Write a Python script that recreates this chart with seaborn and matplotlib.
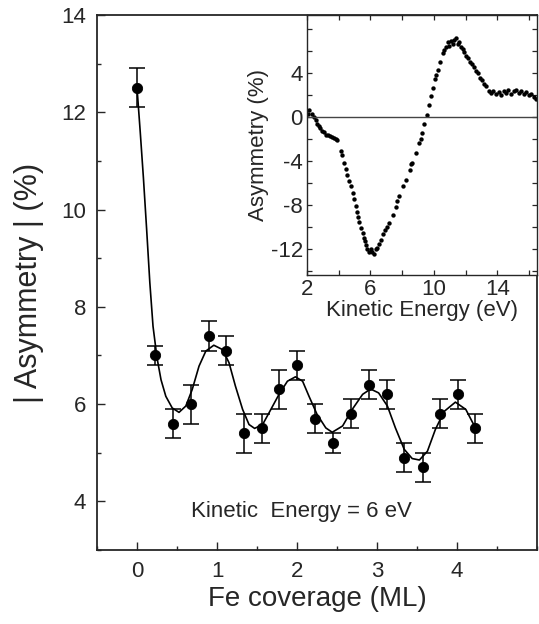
import matplotlib
matplotlib.use("Agg")
import matplotlib.pyplot as plt
from matplotlib.ticker import MultipleLocator
import seaborn as sns

# Main panel: asymmetry vs Fe coverage (points with error bars)
coverage = [0.0, 0.225, 0.45, 0.67, 0.9, 1.11, 1.34, 1.56, 1.78, 2.0,
            2.22, 2.45, 2.68, 2.9, 3.12, 3.34, 3.57, 3.79, 4.01, 4.23]
asymmetry = [12.5, 7.0, 5.6, 6.0, 7.4, 7.1, 5.4, 5.5, 6.3, 6.8,
             5.7, 5.2, 5.8, 6.4, 6.2, 4.9, 4.7, 5.8, 6.2, 5.5]
asym_err = [0.4, 0.2, 0.3, 0.4, 0.3, 0.3, 0.4, 0.3, 0.4, 0.3,
            0.3, 0.2, 0.3, 0.3, 0.3, 0.3, 0.3, 0.3, 0.3, 0.3]

# fitted curve
fit_x = [0.0, 0.04, 0.08, 0.12, 0.16, 0.20, 0.25, 0.30, 0.36, 0.44,
         0.525, 0.61, 0.69, 0.775, 0.86, 0.96, 1.07, 1.15, 1.23, 1.32,
         1.40, 1.47, 1.57, 1.65, 1.775, 1.88, 1.98, 2.07, 2.15, 2.25,
         2.36, 2.44, 2.57, 2.69, 2.82, 2.92, 3.02, 3.13, 3.23, 3.34,
         3.44, 3.53, 3.63, 3.73, 3.84, 3.98, 4.11, 4.23]
fit_y = [12.5, 11.6, 10.65, 9.6, 8.5, 7.6, 6.95, 6.5, 6.16, 5.92,
         5.83, 5.96, 6.3, 6.78, 7.09, 7.21, 7.12, 6.85, 6.37, 5.89,
         5.58, 5.5, 5.58, 5.82, 6.2, 6.47, 6.56, 6.47, 6.16, 5.79,
         5.51, 5.42, 5.55, 5.89, 6.2, 6.31, 6.23, 5.96, 5.51, 5.07,
         4.88, 4.85, 5.03, 5.48, 5.85, 6.04, 5.89, 5.51]

# Inset: asymmetry vs kinetic energy
energy = [2.05, 2.15, 2.3, 2.44, 2.55, 2.65, 2.75, 2.82, 2.95, 3.07,
          3.2, 3.35, 3.48, 3.6, 3.72, 3.82, 3.91, 4.13, 4.22, 4.34,
          4.45, 4.55, 4.65, 4.76, 4.87, 4.97, 5.06, 5.14, 5.2, 5.28,
          5.4, 5.5, 5.58, 5.66, 5.74, 5.81, 5.92, 6.02, 6.12, 6.23,
          6.33, 6.44, 6.55, 6.66, 6.8, 6.93, 7.05, 7.18, 7.39, 7.6,
          7.7, 7.81, 8.06, 8.27, 8.49, 8.57, 8.65, 8.87, 9.07, 9.16,
          9.25, 9.39, 9.54, 9.66, 9.81, 9.92, 10.04, 10.12, 10.23, 10.38,
          10.55, 10.65, 10.76, 10.87, 10.97, 11.08, 11.18, 11.29, 11.39, 11.5,
          11.6, 11.7, 11.81, 11.92, 12.02, 12.15, 12.28, 12.42, 12.55, 12.65,
          12.76, 12.9, 13.04, 13.16, 13.29, 13.45, 13.6, 13.75, 13.92, 14.08,
          14.23, 14.4, 14.55, 14.7, 14.87, 15.02, 15.18, 15.34, 15.5, 15.65,
          15.81, 15.97, 16.13, 16.3, 16.45]
energy_asym = [0.3, 0.6, 0.3, 0.0, -0.3, -0.6, -0.8, -1.0, -1.3, -1.4,
               -1.6, -1.6, -1.7, -1.8, -1.9, -2.0, -2.1, -3.1, -3.5, -4.2,
               -4.7, -5.3, -5.8, -6.3, -6.9, -7.5, -8.1, -8.7, -9.1, -9.6,
               -10.1, -10.6, -11.0, -11.3, -11.7, -12.0, -12.3, -12.0, -12.3, -12.5,
               -12.0, -11.9, -11.6, -11.2, -10.7, -10.3, -10.0, -9.7, -8.9, -8.2,
               -7.7, -7.2, -6.3, -5.7, -4.8, -4.3, -4.2, -3.3, -2.4, -2.0,
               -1.5, -0.6, 0.2, 1.1, 1.9, 2.6, 3.5, 3.8, 4.3, 5.0,
               5.8, 6.1, 6.4, 6.8, 6.5, 6.9, 6.7, 7.0, 7.2, 6.7,
               6.8, 6.4, 6.2, 5.9, 5.6, 5.4, 5.0, 4.8, 4.6, 4.2,
               4.0, 3.6, 3.4, 3.0, 2.8, 2.4, 2.2, 2.4, 2.1, 2.3,
               2.0, 2.4, 2.2, 2.5, 2.1, 2.4, 2.5, 2.2, 2.4, 2.1,
               2.3, 2.0, 2.1, 1.8, 1.6]

sns.set_style("ticks")
plt.rcParams["font.family"] = ["Liberation Sans", "DejaVu Sans"]
plt.rcParams["axes.unicode_minus"] = False

fig = plt.figure(figsize=(5.39, 6.24), dpi=100)
ax = fig.add_axes([0.18, 0.1186, 0.8163, 0.8574])

sns.lineplot(x=fit_x, y=fit_y, ax=ax, color="black", linewidth=1.2, sort=False, estimator=None)
ax.errorbar(coverage, asymmetry, yerr=asym_err, fmt="none", ecolor="black",
            elinewidth=1.1, capsize=5.6, capthick=1.1, zorder=2)
sns.scatterplot(x=coverage, y=asymmetry, ax=ax, color="black", s=55, edgecolor="black", zorder=3)

ax.set_xlim(-0.5, 5)
ax.set_ylim(3, 14)
ax.set_xticks([0, 1, 2, 3, 4])
ax.set_yticks([4, 6, 8, 10, 12, 14])
ax.xaxis.set_minor_locator(MultipleLocator(0.5))
ax.yaxis.set_minor_locator(MultipleLocator(1))
ax.tick_params(which="major", direction="in", length=5.5, width=1, labelsize=16, pad=8)
ax.tick_params(which="minor", direction="in", length=3, width=1)
for s in ax.spines.values():
    s.set_linewidth(1.3)
ax.set_xlabel("Fe coverage (ML)", fontsize=20, labelpad=3)
ax.set_ylabel("| Asymmetry | (%)", fontsize=22, labelpad=12)
ax.text(2.05, 3.8, "Kinetic  Energy = 6 eV", ha="center", va="center", fontsize=16)

# inset
ax2 = fig.add_axes([0.5696, 0.5593, 0.4267, 0.4167])
ax2.axhline(0, color="#444444", linewidth=1)
sns.scatterplot(x=energy, y=energy_asym, ax=ax2, color="black", s=10, linewidth=0)
ax2.set_xlim(2, 16.5)
ax2.set_ylim(-14.4, 9.3)
ax2.set_xticks([2, 6, 10, 14])
ax2.set_yticks([-12, -8, -4, 0, 4])
ax2.xaxis.set_minor_locator(MultipleLocator(2))
ax2.yaxis.set_minor_locator(MultipleLocator(2))
ax2.tick_params(which="both", direction="in", length=3.5, width=0.9, top=True, right=True,
                labelsize=16, pad=3)
for s in ax2.spines.values():
    s.set_linewidth(1.0)
ax2.set_xlabel("Kinetic Energy (eV)", fontsize=16, labelpad=0)
ax2.set_ylabel("Asymmetry (%)", fontsize=16, labelpad=1)

fig.savefig("out.png", dpi=100)
